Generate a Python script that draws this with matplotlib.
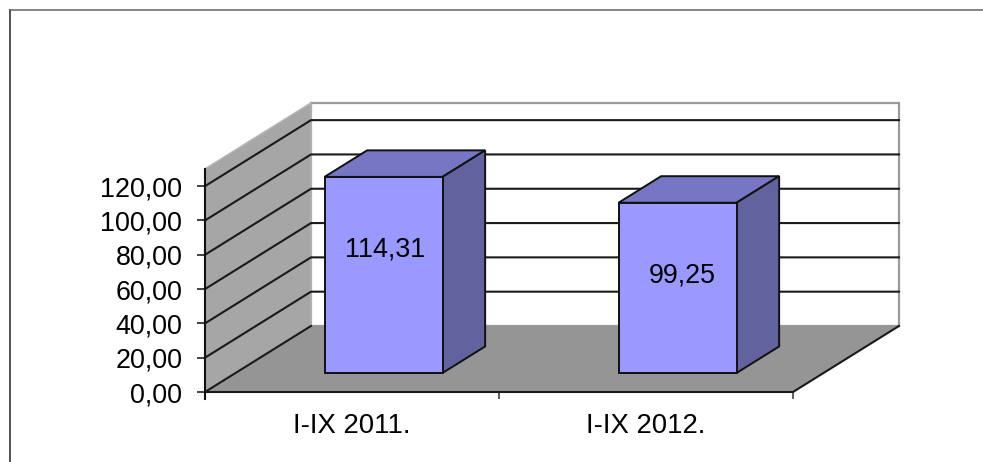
import matplotlib
matplotlib.use("Agg")
import matplotlib.pyplot as plt
from matplotlib.lines import Line2D
from matplotlib.patches import Polygon

plt.rcParams['font.family'] = ['Liberation Sans', 'DejaVu Sans']

categories = ["I-IX 2011.", "I-IX 2012."]
values = [114.31, 99.25]
value_labels = ["114,31", "99,25"]
y_ticks = [0, 20, 40, 60, 80, 100, 120]
y_tick_labels = ["0,00", "20,00", "40,00", "60,00", "80,00", "100,00", "120,00"]

W, H = 983, 462
y_top = 130
font_size = 19.4

# fake 3d: how far the back wall is shifted, in data units
depth_x = 106 / 294
depth_y = 66 / 1.715

# bar sits between these depths, and takes this share of a category
bar_d0 = 0.288
bar_d1 = 0.69
bar_width = 118 / 294
bar_nudge = 1 / 294
label_nudge = [0.01, 0.018]


def shift(x, y, d):
    return (x + depth_x * d, y + depth_y * d)


fig = plt.figure(figsize=(W / 100, H / 100), dpi=100)
ax = fig.add_axes([205 / W, 1 - 392 / H, 588 / W, (392 - 169) / H])
ax.set_xlim(0, 2)
ax.set_ylim(0, y_top)
ax.patch.set_visible(False)
for s in ax.spines.values():
    s.set_visible(False)


def face(points, fc, ec="#111111", lw=1.2, z=2):
    ax.add_patch(Polygon(points, closed=True, facecolor=fc, edgecolor=ec,
                         linewidth=lw, clip_on=False, zorder=z, joinstyle="miter"))


# back wall, side wall, floor
face([shift(0, 0, 1), shift(2, 0, 1), shift(2, y_top, 1), shift(0, y_top, 1)],
     "white", ec="#9a9a9a", lw=1.6, z=1)
face([shift(0, 0, 0), shift(0, 0, 1), shift(0, y_top, 1), shift(0, y_top, 0)],
     "#a6a6a6", ec="#b4b4b4", lw=1.2, z=1)

for v in y_ticks[1:]:
    p0, p1, p2 = shift(0, v, 0), shift(0, v, 1), shift(2, v, 1)
    ax.plot([p0[0], p1[0], p2[0]], [p0[1], p1[1], p2[1]], color="#1a1a1a",
            lw=1.5, clip_on=False, zorder=1.5)

face([shift(0, 0, 0), shift(2, 0, 0), shift(2, 0, 1), shift(0, 0, 1)],
     "#959595", ec="none", lw=0, z=1.6)
# floor edges: left, front and right are dark, the back one is not
ax.plot([shift(0, 0, 1)[0], 0, 2, shift(2, 0, 1)[0]],
        [shift(0, 0, 1)[1], 0, 0, shift(2, 0, 1)[1]],
        color="#1a1a1a", lw=1.5, clip_on=False, zorder=1.7)

# bars
for i, v in enumerate(values):
    x0 = i + 0.5 - bar_width / 2 + bar_nudge
    x1 = i + 0.5 + bar_width / 2 + bar_nudge
    face([shift(x0, v, bar_d0), shift(x1, v, bar_d0), shift(x1, v, bar_d1), shift(x0, v, bar_d1)],
         "#7676c4", lw=1.4, z=3)
    face([shift(x1, 0, bar_d0), shift(x1, 0, bar_d1), shift(x1, v, bar_d1), shift(x1, v, bar_d0)],
         "#62629f", lw=1.4, z=3)
    face([shift(x0, 0, bar_d0), shift(x1, 0, bar_d0), shift(x1, v, bar_d0), shift(x0, v, bar_d0)],
         "#9999ff", lw=1.4, z=4)
    lx, ly = shift(i + 0.5, v - 42.6, bar_d0)
    ax.text(lx + label_nudge[i], ly, value_labels[i], ha="center", va="center",
            fontsize=font_size, color="black", zorder=5)

# axis line goes a little below the floor, like the tick
ax.plot([0, 0], [-7 / 1.715, y_top], color="#111111", lw=1.5, clip_on=False, zorder=2)

ax.set_yticks(y_ticks)
ax.set_yticklabels(y_tick_labels, fontsize=font_size)
ax.tick_params(axis="y", length=5.8, width=1.2, color="#222222", pad=10.5)
ax.set_xticks([0, 1, 2])
ax.set_xticklabels(["", "", ""])
ax.tick_params(axis="x", which="major", length=5, width=1.2, color="#444444")
ax.set_xticks([0.5, 1.5], minor=True)
ax.set_xticklabels(categories, minor=True, fontsize=font_size + 0.4)
ax.tick_params(axis="x", which="minor", length=0, pad=15)

# chart frame, only left and top fit in the crop
fig.add_artist(Line2D([9.5 / W, 9.5 / W], [0, 1 - 10 / H], color="#222222", lw=1.1))
fig.add_artist(Line2D([9.5 / W, 1], [1 - 10 / H, 1 - 10 / H], color="#666666", lw=1.1))

fig.savefig("out.png", dpi=100)
